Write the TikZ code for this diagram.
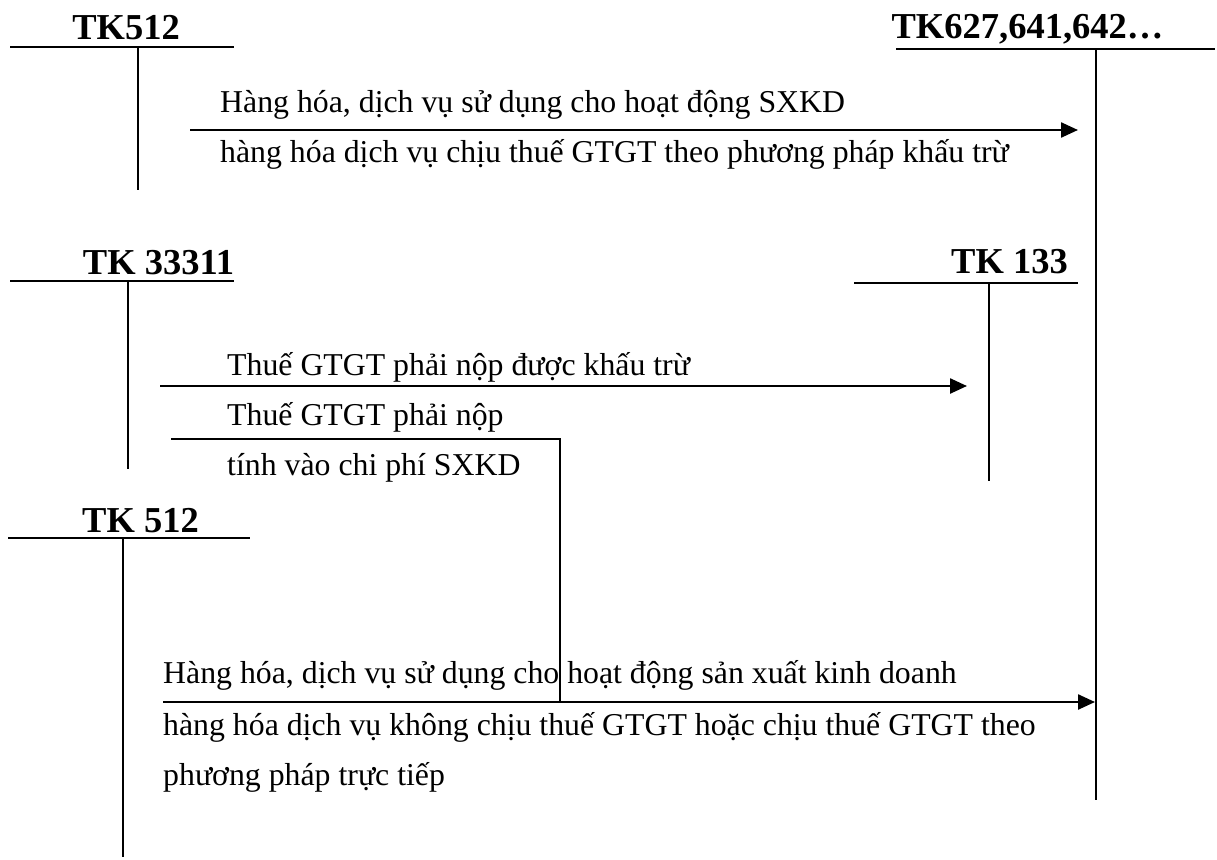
\documentclass[tikz,border=0pt]{standalone}
\usepackage{fontspec}
\setmainfont{Liberation Serif}
\usetikzlibrary{arrows.meta}
\tikzset{
  acct/.style={line width=2.2pt},
  acctthin/.style={line width=1.6pt},
  flow/.style={line width=2.4pt,-{Triangle[length=17pt,width=15pt]}},
  plain/.style={line width=2pt},
  title/.style={anchor=base,inner sep=0pt,font=\fontsize{36.5}{42}\selectfont\bfseries},
  lbl/.style={anchor=base west,inner sep=0pt,font=\fontsize{31.8}{38}\selectfont},
}
\begin{document}
\begin{tikzpicture}[x=1pt,y=-1pt]
\useasboundingbox (0,0) rectangle (1217,859);
% T-account TK512 (top)
\node[title] (t512a) at (126,40) {TK512};
\coordinate (a1l) at (10,47); \coordinate (a1r) at (234,47);
\coordinate (a1t) at (138,47); \coordinate (a1b) at (138,190);
\draw[acct] (a1l) -- (a1r); \draw[acct] (a1t) -- (a1b);
% T-account TK627,641,642...
\node[title] (t627) at (1027.5,39) {TK627,641,642…};
\coordinate (a2l) at (896,49); \coordinate (a2r) at (1215,49);
\coordinate (a2t) at (1096,49); \coordinate (a2b) at (1096,800);
\draw[acct] (a2l) -- (a2r); \draw[acct] (a2t) -- (a2b);
% T-account TK 33311
\node[title] (t33311) at (158.5,274) {TK 33311};
\coordinate (a3l) at (10,281); \coordinate (a3r) at (234,281);
\coordinate (a3t) at (128,281); \coordinate (a3b) at (128,469);
\draw[acct] (a3l) -- (a3r); \draw[acctthin] (a3t) -- (a3b);
% T-account TK 133
\node[title] (t133) at (1009.5,273) {TK 133};
\coordinate (a4l) at (854,283); \coordinate (a4r) at (1078,283);
\coordinate (a4t) at (989,283); \coordinate (a4b) at (989,481);
\draw[acct] (a4l) -- (a4r); \draw[acctthin] (a4t) -- (a4b);
% T-account TK 512 (lower)
\node[title] (t512b) at (140.5,532) {TK 512};
\coordinate (a5l) at (8,538); \coordinate (a5r) at (250,538);
\coordinate (a5t) at (123,538); \coordinate (a5b) at (123,857);
\draw[acct] (a5l) -- (a5r); \draw[acct] (a5t) -- (a5b);
% Flow 1: TK512 -> TK627
\coordinate (f1s) at (190,130); \coordinate (f1e) at (1078,130);
\draw[flow] (f1s) -- (f1e);
\node[lbl] (l1) at (220,112) {Hàng hóa, dịch vụ sử dụng cho hoạt động SXKD};
\node[lbl] (l2) at (220,162) {hàng hóa dịch vụ chịu thuế GTGT theo phương pháp khấu trừ};
% Flow 2: TK33311 -> TK133
\coordinate (f2s) at (160,386); \coordinate (f2e) at (967,386);
\draw[flow] (f2s) -- (f2e);
\node[lbl] (l3) at (227,375) {Thuế GTGT phải nộp được khấu trừ};
% Flow 3: TK33311 -> bottom flow
\node[lbl] (l4) at (227,425) {Thuế GTGT phải nộp};
\node[lbl] (l5) at (227,475) {tính vào chi phí SXKD};
\coordinate (f3s) at (171,439); \coordinate (f3c) at (560,439); \coordinate (f3e) at (560,702);
\draw[plain] (f3s) -- (f3c) -- (f3e);
% Flow 4: TK 512 -> TK627
\coordinate (f4s) at (163,702); \coordinate (f4e) at (1095,702);
\draw[flow] (f4s) -- (f4e);
\node[lbl] (l6) at (163,683) {Hàng hóa, dịch vụ sử dụng cho hoạt động sản xuất kinh doanh};
\node[lbl] (l7) at (163,735) {hàng hóa dịch vụ không chịu thuế GTGT hoặc chịu thuế GTGT theo};
\node[lbl] (l8) at (163,785) {phương pháp trực tiếp};
\end{tikzpicture}
\end{document}
